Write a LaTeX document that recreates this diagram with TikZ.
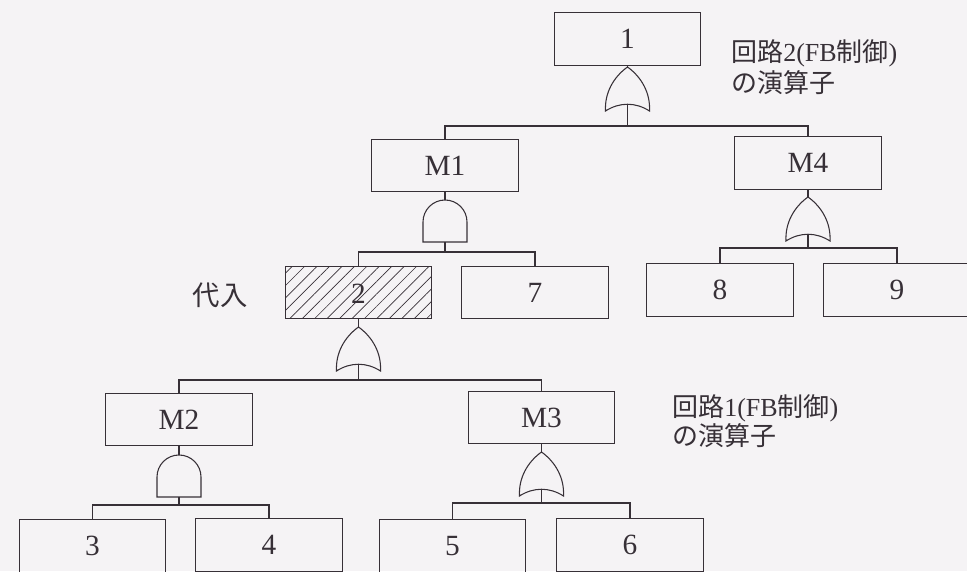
\documentclass[tikz,border=0pt]{standalone}
\usepackage{fontspec}
\setmainfont{Liberation Serif}
\newfontfamily\jpfont{Noto Sans CJK JP}
\usetikzlibrary{patterns.meta}
\definecolor{paper}{RGB}{245,243,245}
\definecolor{ink}{RGB}{55,48,55}
\newcommand{\boxfont}{\fontsize{22}{26}\selectfont}
\newcommand{\lblfont}{\fontsize{19.5}{23.5}\selectfont}
\tikzset{
  box/.style={draw=ink, line width=0.8pt, minimum width=110pt, minimum height=39.5pt,
    inner sep=0pt, text=ink, font=\boxfont, text depth=-2pt},
  hatchbox/.style={box, pattern={Lines[angle=45,distance=6.6pt,line width=0.5pt]}, pattern color=ink},
  wire/.style={draw=ink, line width=0.8pt},
  gateline/.style={draw=ink, line width=0.8pt, fill=paper},
  lbl/.style={text=ink, font=\lblfont, inner sep=0pt},
  orgate/.pic={
    \path[gateline] (-22,44) .. controls (-23,26) and (-14,10) .. (0,0)
      .. controls (14,10) and (23,26) .. (22,44)
      .. controls (8,35) and (-8,35) .. cycle;
    \coordinate (-top) at (0,0);
    \coordinate (-bot) at (0,37);
  },
  andgate/.pic={
    \path[gateline] (-22,42) -- (-22,22) arc (180:360:22) -- (22,42) -- cycle;
    \coordinate (-top) at (0,0);
    \coordinate (-bot) at (0,42);
  }
}
\begin{document}
\begin{tikzpicture}[x=0.75pt,y=-0.75pt]
\useasboundingbox (0,0) rectangle (967,571);
\clip (0,0) rectangle (967,571);
\fill[paper] (0,0) rectangle (967,571);

% boxes
\node[box] (n1) at (627.5,39) {1};
\node[box] (M1) at (445,165.5) {M1};
\node[box] (M4) at (808,163) {M4};
\node[hatchbox] (n2) at (358.5,292.5) {};
\node[text=ink, font=\boxfont] (t2) at (358.5,294) {2};
\node[box] (n7) at (535,292.5) {7};
\node[box] (n8) at (720,290) {8};
\node[box] (n9) at (897,290) {9};
\node[box] (M2) at (179,419.5) {M2};
\node[box] (M3) at (541.5,417.5) {M3};
\node[box] (n3) at (92.5,546) {3};
\node[box] (n4) at (269,545) {4};
\node[box] (n5) at (452.5,546) {5};
\node[box] (n6) at (630,545) {6};

% gates
\pic (g1) at (627.5,67) {orgate};
\pic (gM1) at (445,200) {andgate};
\pic (gM4) at (808,197) {orgate};
\pic (g2) at (358.5,327) {orgate};
\pic (gM2) at (179,455) {andgate};
\pic (gM3) at (541.5,452) {orgate};

% junctions
\coordinate (j1) at (627.5,126);
\coordinate (jM1) at (445,252);
\coordinate (jM4) at (808,248);
\coordinate (j2) at (358.5,380);
\coordinate (jM2) at (179,505);
\coordinate (jM3) at (541.5,503);

% connectors
\draw[wire] (n1.south) -- (g1-top);
\draw[wire] (g1-bot) -- (j1);
\draw[wire] (M1.north) |- (j1) -| (M4.north);

\draw[wire] (M1.south) -- (gM1-top);
\draw[wire] (gM1-bot) -- (jM1);
\draw[wire] (n2.north) |- (jM1) -| (n7.north);

\draw[wire] (M4.south) -- (gM4-top);
\draw[wire] (gM4-bot) -- (jM4);
\draw[wire] (n8.north) |- (jM4) -| (n9.north);

\draw[wire] (n2.south) -- (g2-top);
\draw[wire] (g2-bot) -- (j2);
\draw[wire] (M2.north) |- (j2) -| (M3.north);

\draw[wire] (M2.south) -- (gM2-top);
\draw[wire] (gM2-bot) -- (jM2);
\draw[wire] (n3.north) |- (jM2) -| (n4.north);

\draw[wire] (M3.south) -- (gM3-top);
\draw[wire] (gM3-bot) -- (jM3);
\draw[wire] (n5.north) |- (jM3) -| (n6.north);

% labels
\node[lbl, anchor=west] (L2a) at (731,53) {{\jpfont 回路}2(FB{\jpfont 制御})};
\node[lbl, anchor=west] (L2b) at (731,83) {{\jpfont の演算子}};
\node[lbl, anchor=west] (L1a) at (672,408) {{\jpfont 回路}1(FB{\jpfont 制御})};
\node[lbl, anchor=west] (L1b) at (672,436) {{\jpfont の演算子}};
\node[lbl, font=\fontsize{20.5}{24}\selectfont] (Ld) at (220,295) {{\jpfont 代入}};
\end{tikzpicture}
\end{document}
